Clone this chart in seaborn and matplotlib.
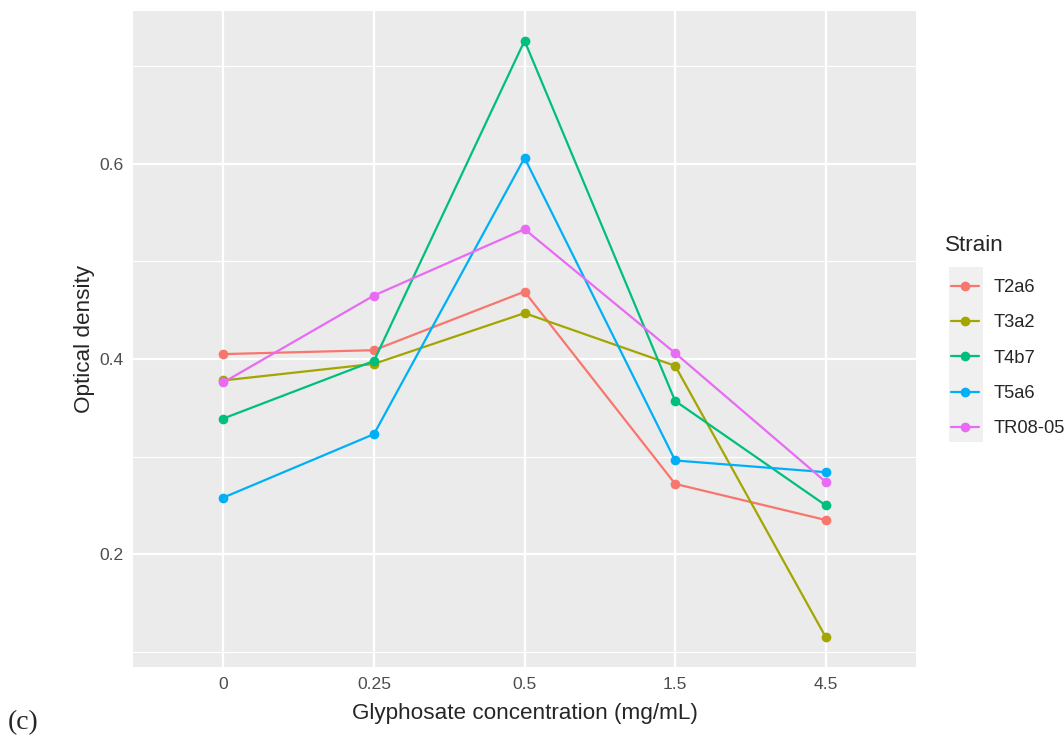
import matplotlib
matplotlib.use('Agg')
import matplotlib.pyplot as plt
import matplotlib.patches as mpatches
import pandas as pd
import seaborn as sns

concentrations = ['0', '0.25', '0.5', '1.5', '4.5']
strains = ['T2a6', 'T3a2', 'T4b7', 'T5a6', 'TR08-05']
t2a6 = [0.405, 0.409, 0.469, 0.272, 0.235]
t3a2 = [0.378, 0.395, 0.447, 0.393, 0.115]
t4b7 = [0.339, 0.398, 0.726, 0.357, 0.250]
t5a6 = [0.258, 0.323, 0.606, 0.296, 0.284]
tr0805 = [0.376, 0.465, 0.533, 0.406, 0.274]
palette = ['#F8766D', '#A3A500', '#00BF7D', '#00B0F6', '#E76BF3']

rows = []
for strain, vals in zip(strains, [t2a6, t3a2, t4b7, t5a6, tr0805]):
    for c, v in zip(concentrations, vals):
        rows.append({'Concentration': c, 'OD': v, 'Strain': strain})
df = pd.DataFrame(rows)

sns.set_style('darkgrid', {'axes.facecolor': '#EBEBEB', 'grid.color': 'white'})
plt.rcParams['font.family'] = ['Liberation Sans', 'DejaVu Sans']

fig = plt.figure(figsize=(10.64, 7.38), dpi=100)
ax = fig.add_axes([0.125, 0.0962, 0.736, 0.889])
ax.set_facecolor('#EBEBEB')

sns.lineplot(data=df, x='Concentration', y='OD', hue='Strain', palette=palette,
             marker='o', markersize=7, markeredgewidth=0, linewidth=1.6,
             sort=False, ax=ax)

ax.set_xlim(-0.6, 4.6)
ax.set_ylim(0.0844, 0.7566)
ax.set_yticks([0.2, 0.4, 0.6])
ax.set_yticklabels(['0.2', '0.4', '0.6'])
ax.set_yticks([0.1, 0.3, 0.5, 0.7], minor=True)
ax.grid(which='major', color='white', linewidth=1.6)
ax.grid(which='minor', axis='y', color='white', linewidth=0.8)
ax.set_axisbelow(True)
for s in ax.spines.values():
    s.set_visible(False)
ax.tick_params(axis='both', which='major', length=4, width=1.2, color='#333333',
               labelsize=12.6, labelcolor='#4D4D4D', pad=3)
ax.tick_params(axis='y', which='minor', length=0)
ax.set_xlabel('Glyphosate concentration (mg/mL)', fontsize=16.2, labelpad=8)
ax.set_ylabel('Optical density', fontsize=16.2, labelpad=3)

# legend outside on the right, ggplot style
handles, labels = ax.get_legend_handles_labels()
ax.get_legend().remove()
fig.text(945 / 1064, 1 - 246 / 738, 'Strain', fontsize=16.2, ha='left', va='center')
leg = fig.legend(handles, labels, loc='upper left',
                 bbox_to_anchor=(951 / 1064, 1 - 279 / 738), frameon=False,
                 borderaxespad=0, borderpad=0,
                 fontsize=13.2, handlelength=1.55,
                 labelspacing=1.0, handletextpad=0.75)
fig.patches.append(mpatches.Rectangle((949 / 1064, 1 - 442 / 738), 34 / 1064, 175 / 738,
                                      transform=fig.transFigure, facecolor='#F0F0F0',
                                      edgecolor='none', zorder=0))

fig.text(8 / 1064, 1 - 735 / 738, '(c)', family='Liberation Serif', fontsize=20,
         va='bottom', ha='left')

fig.savefig('out.png', dpi=100)
